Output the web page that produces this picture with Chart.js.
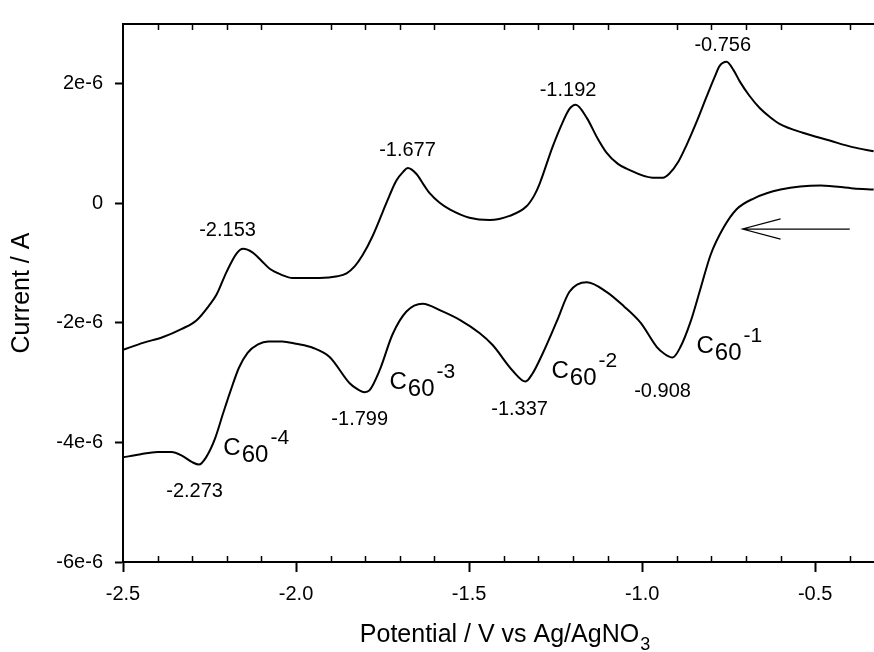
<!DOCTYPE html>
<html lang="en">
<head>
<meta charset="UTF-8">
<title>C60 cyclic voltammogram</title>
<style>
  html, body { margin: 0; padding: 0; background: #fff; overflow: hidden; }
  #wrap { width: 874px; height: 652px; }
</style>
</head>
<body>
<div id="wrap"><canvas id="cv" width="874" height="652"></canvas></div>
<script src="https://cdn.jsdelivr.net/npm/chart.js"></script>
<script>
// forward (cathodic) scan: starts near -0.33 V and runs down to -2.5 V
const fwdPotential = [-0.331, -0.389, -0.484, -0.600, -0.678, -0.727, -0.765, -0.802, -0.831, -0.860,
  -0.889, -0.912, -0.935, -0.958, -1.004, -1.053, -1.103, -1.160, -1.210, -1.247,
  -1.288, -1.317, -1.337, -1.374, -1.432, -1.470, -1.527, -1.580, -1.634, -1.681,
  -1.721, -1.759, -1.788, -1.802, -1.825, -1.845, -1.903, -1.950, -2.000, -2.040,
  -2.080, -2.110, -2.140, -2.165, -2.190, -2.210, -2.235, -2.260, -2.280, -2.300,
  -2.330, -2.360, -2.400, -2.452, -2.500];
// current in units of 1e-6 A
const fwdCurrent = [0.23, 0.25, 0.30, 0.23, 0.08, -0.10, -0.41, -0.86, -1.42, -1.98,
  -2.40, -2.58, -2.52, -2.40, -2.00, -1.72, -1.48, -1.32, -1.48, -1.98,
  -2.52, -2.85, -2.98, -2.80, -2.37, -2.17, -1.95, -1.80, -1.68, -1.81,
  -2.19, -2.80, -3.13, -3.16, -3.10, -3.01, -2.57, -2.42, -2.35, -2.31,
  -2.31, -2.36, -2.50, -2.75, -3.15, -3.50, -3.95, -4.25, -4.37, -4.33,
  -4.22, -4.16, -4.16, -4.20, -4.25];

// reverse (anodic) scan: -2.5 V back up to -0.33 V
const revPotential = [-2.500, -2.440, -2.386, -2.330, -2.288, -2.250, -2.230, -2.201, -2.172, -2.153,
  -2.126, -2.100, -2.077, -2.040, -2.011, -1.932, -1.880, -1.854, -1.830, -1.808,
  -1.779, -1.750, -1.730, -1.710, -1.690, -1.677, -1.652, -1.630, -1.614, -1.585,
  -1.556, -1.499, -1.441, -1.383, -1.334, -1.310, -1.296, -1.259, -1.230, -1.210,
  -1.192, -1.160, -1.130, -1.103, -1.070, -1.045, -0.970, -0.940, -0.921, -0.895,
  -0.872, -0.840, -0.814, -0.790, -0.776, -0.756, -0.735, -0.718, -0.690, -0.661,
  -0.630, -0.603, -0.536, -0.458, -0.392, -0.331];
const revCurrent = [-2.45, -2.33, -2.24, -2.10, -1.96, -1.70, -1.53, -1.15, -0.84, -0.76,
  -0.82, -0.96, -1.09, -1.20, -1.25, -1.25, -1.22, -1.17, -1.05, -0.87,
  -0.55, -0.15, 0.13, 0.38, 0.53, 0.59, 0.49, 0.30, 0.17, 0.01,
  -0.10, -0.24, -0.28, -0.21, -0.05, 0.15, 0.33, 0.94, 1.35, 1.58,
  1.65, 1.43, 1.10, 0.85, 0.66, 0.58, 0.43, 0.43, 0.50, 0.70,
  0.97, 1.40, 1.78, 2.12, 2.30, 2.37, 2.22, 2.04, 1.80, 1.60,
  1.44, 1.33, 1.18, 1.05, 0.94, 0.87];

const peakText = ['-2.153', '-1.677', '-1.192', '-0.756', '-2.273', '-1.799', '-1.337', '-0.908'];
const ionCharge = ['-4', '-3', '-2', '-1'];

const FONT = "'Liberation Sans', Arial, Helvetica, sans-serif";

const toPoints = (xs, ys) => xs.map((v, i) => ({ x: v, y: ys[i] }));

// label anchors in data units (potential, current)
const peakAt = [[-2.198, -0.54], [-1.678, 0.79], [-1.214, 1.79], [-0.767, 2.55],
  [-2.293, -4.92], [-1.816, -3.70], [-1.354, -3.54], [-0.941, -3.24]];
const ionAt = [[-2.210, -4.21], [-1.730, -3.10], [-1.262, -2.93], [-0.843, -2.50]];

const decor = {
  id: 'decor',
  afterDraw(chart) {
    const { ctx, chartArea: a, scales: { x, y } } = chart;
    ctx.save();
    ctx.strokeStyle = '#000';
    ctx.fillStyle = '#000';

    // top frame line
    ctx.lineWidth = 2;
    ctx.beginPath();
    ctx.moveTo(a.left, a.top);
    ctx.lineTo(a.right, a.top);
    ctx.stroke();

    // minor ticks every 0.1 V, pointing inward
    ctx.lineWidth = 1.5;
    for (let k = -24; k <= -4; k++) {
      if (k % 5 === 0) continue;
      const px = Math.round(x.getPixelForValue(k / 10)) + 0.5;
      ctx.beginPath();
      ctx.moveTo(px, a.bottom);
      ctx.lineTo(px, a.bottom - 6);
      ctx.moveTo(px, a.top);
      ctx.lineTo(px, a.top + 6);
      ctx.stroke();
    }

    // peak potentials
    ctx.font = '20px ' + FONT;
    ctx.textAlign = 'center';
    ctx.textBaseline = 'alphabetic';
    peakText.forEach((t, i) => {
      ctx.fillText(t, x.getPixelForValue(peakAt[i][0]), y.getPixelForValue(peakAt[i][1]));
    });

    // C60 ion labels
    ctx.textAlign = 'left';
    ionCharge.forEach((q, i) => {
      const px = x.getPixelForValue(ionAt[i][0]);
      const py = y.getPixelForValue(ionAt[i][1]);
      ctx.font = '24px ' + FONT;
      ctx.fillText('C', px, py);
      const wc = ctx.measureText('C').width;
      ctx.fillText('60', px + wc + 1, py + 7);
      const w60 = ctx.measureText('60').width;
      ctx.font = '21px ' + FONT;
      ctx.fillText(q, px + wc + w60 + 3, py - 11);
    });

    // scan direction arrow
    const ay = y.getPixelForValue(-0.43);
    const tip = x.getPixelForValue(-0.710);
    ctx.lineWidth = 1.2;
    ctx.beginPath();
    ctx.moveTo(x.getPixelForValue(-0.400), ay);
    ctx.lineTo(tip, ay);
    ctx.moveTo(x.getPixelForValue(-0.600), y.getPixelForValue(-0.26));
    ctx.lineTo(tip, ay);
    ctx.lineTo(x.getPixelForValue(-0.600), y.getPixelForValue(-0.60));
    ctx.stroke();

    // axis titles
    const main = 'Potential / V vs Ag/AgNO';
    ctx.font = '25px ' + FONT;
    const wMain = ctx.measureText(main).width;
    ctx.font = '18px ' + FONT;
    const wSub = ctx.measureText('3').width;
    const cx = (a.left + a.right) / 2 + 6;
    const x0 = cx - (wMain + wSub) / 2;
    ctx.font = '25px ' + FONT;
    ctx.fillText(main, x0, 642);
    ctx.font = '18px ' + FONT;
    ctx.fillText('3', x0 + wMain + 1, 650);

    ctx.translate(22, (a.top + a.bottom) / 2);
    ctx.rotate(-Math.PI / 2);
    ctx.font = '25px ' + FONT;
    ctx.textAlign = 'center';
    ctx.textBaseline = 'middle';
    ctx.fillText('Current / A', 0, 0);
    ctx.restore();
  }
};

const lineStyle = {
  showLine: true,
  borderColor: '#000',
  borderWidth: 2,
  pointRadius: 0,
  cubicInterpolationMode: 'monotone',
  fill: false
};

new Chart(document.getElementById('cv'), {
  type: 'scatter',
  data: {
    datasets: [
      { label: 'forward scan', data: toPoints(fwdPotential, fwdCurrent), ...lineStyle },
      { label: 'reverse scan', data: toPoints(revPotential, revCurrent), ...lineStyle }
    ]
  },
  options: {
    responsive: false,
    animation: false,
    devicePixelRatio: 1,
    layout: { autoPadding: false, padding: { top: 14, right: 0, left: 0, bottom: 0 } },
    plugins: { legend: { display: false }, tooltip: { enabled: false } },
    scales: {
      x: {
        type: 'linear',
        min: -2.5,
        max: -0.33,
        afterFit: s => { s.height = 90; },
        border: { display: true, color: '#000', width: 2 },
        grid: { drawOnChartArea: false, drawTicks: true, tickLength: 10, tickColor: '#000', tickWidth: 2 },
        ticks: {
          stepSize: 0.5,
          includeBounds: false,
          padding: 10,
          color: '#000',
          font: { family: FONT, size: 20 },
          maxRotation: 0,
          callback: v => v.toFixed(1)
        }
      },
      y: {
        min: -6,
        max: 3,
        afterFit: s => { s.width = 123; },
        border: { display: true, color: '#000', width: 2 },
        grid: { drawOnChartArea: false, drawTicks: true, tickLength: 8, tickColor: '#000', tickWidth: 2 },
        ticks: {
          stepSize: 2,
          includeBounds: false,
          padding: 12,
          color: '#000',
          font: { family: FONT, size: 20 },
          callback: v => (v === 0 ? '0' : v + 'e-6')
        }
      }
    }
  },
  plugins: [decor]
});
</script>
</body>
</html>
